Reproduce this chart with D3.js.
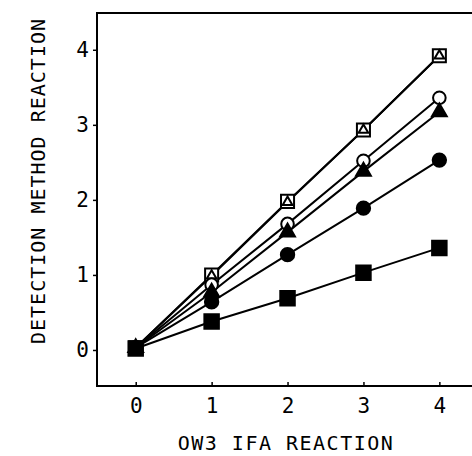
<!DOCTYPE html>
<html>
<head>
<meta charset="utf-8">
<script src="https://cdn.jsdelivr.net/npm/d3@7"></script>
<style>
  body { margin: 0; background: #fff; }
  text { font-family: "DejaVu Sans Mono", monospace; fill: #000; }
</style>
</head>
<body>
<div class="chart"></div>
<script>
// OW3 IFA reaction vs detection method reaction
var width = 472;
var height = 456;

var xVals = [0, 1, 2, 3, 4];
var xTicks = [0, 1, 2, 3, 4];
var yTicks = [0, 1, 2, 3, 4];

var openSquare     = [0.03, 1.00, 1.98, 2.93, 3.92];
var openTriangle   = [0.03, 0.99, 1.97, 2.93, 3.92];
var openCircle     = [0.03, 0.87, 1.68, 2.52, 3.36];
var filledTriangle = [0.03, 0.77, 1.57, 2.38, 3.17];
var filledCircle   = [0.03, 0.64, 1.27, 1.89, 2.53];
var filledSquare   = [0.02, 0.38, 0.69, 1.03, 1.36];

// drawn in this order, so filled square ends up on top at the origin
var series = [
  { name: 'openSquare',     values: openSquare,     shape: d3.symbolSquare,   size: 170, fill: '#fff' },
  { name: 'openTriangle',   values: openTriangle,   shape: d3.symbolTriangle, size: 40,  fill: '#fff' },
  { name: 'openCircle',     values: openCircle,     shape: d3.symbolCircle,   size: 125, fill: '#fff' },
  { name: 'filledTriangle', values: filledTriangle, shape: d3.symbolTriangle, size: 95,  fill: '#000' },
  { name: 'filledCircle',   values: filledCircle,   shape: d3.symbolCircle,   size: 140, fill: '#000' },
  { name: 'filledSquare',   values: filledSquare,   shape: d3.symbolSquare,   size: 210, fill: '#000' }
];

var x = d3.scaleLinear().domain([-0.51, 4.43]).range([97, 472]);
var y = d3.scaleLinear().domain([-0.48, 4.49]).range([386, 13]);

var svg = d3.select('.chart')
            .append('svg')
            .attr('width', width)
            .attr('height', height)
            .style('display', 'block');

// frame (top, left, bottom)
svg.append('path')
  .attr('d', 'M' + x.range()[1] + ',' + y.range()[1] +
             'H' + x.range()[0] +
             'V' + y.range()[0] +
             'H' + x.range()[1])
  .attr('stroke', '#000')
  .attr('stroke-width', 2)
  .attr('fill', 'none');

// axes
var yAxis = svg.append('g')
  .attr('transform', 'translate(' + x.range()[0] + ',0)')
  .call(d3.axisLeft(y).tickValues(yTicks).tickSize(4).tickPadding(4).tickFormat(d3.format('d')));
var xAxis = svg.append('g')
  .attr('transform', 'translate(0,' + y.range()[0] + ')')
  .call(d3.axisBottom(x).tickValues(xTicks).tickSize(-4).tickPadding(12).tickFormat(d3.format('d')));

[xAxis, yAxis].forEach(function(a) {
  a.select('.domain').remove();
  a.selectAll('line').attr('stroke', '#000').attr('stroke-width', 1.5);
  a.selectAll('text').style('font-family', '"DejaVu Sans Mono", monospace').style('font-size', '21px').attr('fill', '#000');
});

// axis titles
svg.append('text')
  .attr('x', 286)
  .attr('y', 450)
  .attr('text-anchor', 'middle')
  .style('font-size', '20px')
  .style('letter-spacing', '1.5px')
  .text('OW3 IFA REACTION');

svg.append('text')
  .attr('transform', 'translate(45,181) rotate(-90)')
  .attr('text-anchor', 'middle')
  .style('font-size', '20px')
  .style('letter-spacing', '1px')
  .text('DETECTION METHOD REACTION');

// lines
var line = d3.line()
  .x(function(d, i) { return x(xVals[i]); })
  .y(function(d) { return y(d); });

svg.selectAll('.series-line')
  .data(series)
  .enter()
  .append('path')
  .attr('class', 'series-line')
  .attr('d', function(d) { return line(d.values); })
  .attr('fill', 'none')
  .attr('stroke', '#000')
  .attr('stroke-width', 2);

// markers
series.forEach(function(s) {
  svg.selectAll('.m-' + s.name)
    .data(s.values)
    .enter()
    .append('path')
    .attr('class', 'm-' + s.name)
    .attr('transform', function(d, i) { return 'translate(' + x(xVals[i]) + ',' + y(d) + ')'; })
    .attr('d', d3.symbol().type(s.shape).size(s.size))
    .attr('fill', s.fill)
    .attr('stroke', '#000')
    .attr('stroke-width', 2);
});
</script>
</body>
</html>
